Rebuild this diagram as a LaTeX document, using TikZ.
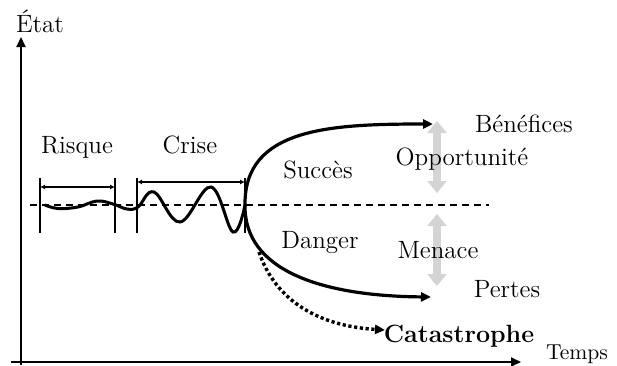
\documentclass[tikz,border=0pt]{standalone}
\usetikzlibrary{arrows.meta}
\definecolor{greyarrow}{HTML}{D4D4D4}
\begin{document}
\begin{tikzpicture}[x=0.5pt,y=-0.5pt,
  axis/.style={line width=1pt,-{Triangle[length=5pt,width=4.5pt]}},
  tick/.style={line width=0.8pt},
  span/.style={line width=0.8pt,{Latex[length=2.5pt,width=2.5pt]}-{Latex[length=2.5pt,width=2.5pt]}},
  branch/.style={line width=1.6pt,-{Triangle[length=5pt,width=4.5pt]}},
  dotline/.style={line width=1.7pt,dash pattern=on 1.6pt off 1.3pt,-{Triangle[length=5pt,width=4.5pt]}},
  midline/.style={line width=1.1pt,dash pattern=on 3.5pt off 2.5pt},
  greydbl/.style={draw=greyarrow,line width=4pt,{Triangle[length=6pt,width=9.5pt]}-{Triangle[length=6pt,width=9.5pt]}},
  lbl/.style={font=\fontsize{12.5}{14}\selectfont,anchor=base,inner sep=0pt},
  lblb/.style={font=\fontsize{12.5}{14}\selectfont\bfseries,anchor=base,inner sep=0pt},
  lbls/.style={font=\fontsize{10.8}{12}\selectfont,anchor=base,inner sep=0pt}]
\useasboundingbox (0,0) rectangle (617,365);
% axes
\coordinate (ybot) at (21,365);
\coordinate (ytop) at (21,37);
\coordinate (xl) at (11,362);
\coordinate (xr) at (521,362);
\draw[axis] (ybot) -- (ytop);
\draw[axis] (xl) -- (xr);
% dashed reference line
\coordinate (dl) at (30,205);
\coordinate (dr) at (489,205);
\draw[midline] (dl) -- (dr);
% Risque bracket
\coordinate (r1t) at (40,178); \coordinate (r1b) at (40,233);
\coordinate (r2t) at (115,178); \coordinate (r2b) at (115,233);
\coordinate (r1m) at (40,187); \coordinate (r2m) at (115,187);
\draw[tick] (r1t) -- (r1b);
\draw[tick] (r2t) -- (r2b);
\draw[span] (r1m) -- (r2m);
% Crise bracket
\coordinate (c1t) at (137,178); \coordinate (c1b) at (137,233);
\coordinate (c2t) at (245,178); \coordinate (c2b) at (245,233);
\coordinate (c1m) at (137,182); \coordinate (c2m) at (245,182);
\draw[tick] (c1t) -- (c1b);
\draw[tick] (c2t) -- (c2b);
\draw[span] (c1m) -- (c2m);
% wave
\draw[line width=1.5pt,line cap=round] plot[smooth,tension=0.65] coordinates
  {(45,205) (58,208.5) (78,207) (97,201) (113,204) (127,209) (138,207) (154,192) (180,222) (211,187) (233,232) (245,205)};
% branches
\coordinate (X) at (245,205);
\coordinate (up) at (433,124);
\coordinate (lo) at (431,297);
\draw[branch] (X) .. controls (244,128) and (330,124) .. (up);
\draw[branch] (X) .. controls (244,270) and (320,296) .. (lo);
\coordinate (d0) at (259,252);
\coordinate (d1) at (385,330);
\draw[dotline] (d0) .. controls (276,302) and (320,326) .. (d1);
% grey double arrows
\coordinate (ga1) at (437,121); \coordinate (ga2) at (437,193);
\coordinate (gb1) at (437,214); \coordinate (gb2) at (437,286);
\draw[greydbl] (ga1) -- (ga2);
\draw[greydbl] (gb1) -- (gb2);
% labels
\node[lbl] (etat) at (40,32) {État};
\node[lbl] (risque) at (77,153) {Risque};
\node[lbl] (crise) at (190,153) {Crise};
\node[lbl] (succes) at (318,178) {Succès};
\node[lbl] (danger) at (320,248) {Danger};
\node[lbl] (opp) at (462,165) {Opportunité};
\node[lbl] (menace) at (438,258) {Menace};
\node[lbl] (benef) at (524,132) {Bénéfices};
\node[lbl] (pertes) at (507,297) {Pertes};
\node[lblb] (cata) at (459,342) {Catastrophe};
\node[lbls] (temps) at (577,359) {Temps};
\end{tikzpicture}
\end{document}
